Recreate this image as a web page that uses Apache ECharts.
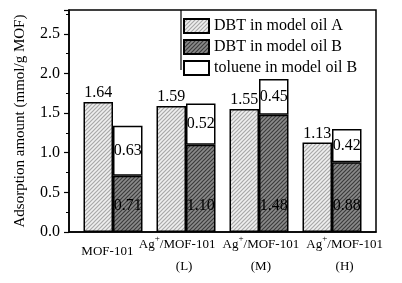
<!DOCTYPE html>
<html>
<head>
<meta charset="utf-8">
<script src="https://cdn.jsdelivr.net/npm/echarts@6/dist/echarts.min.js"></script>
<style>
html,body{margin:0;padding:0;background:#fff}
#chart{width:402px;height:283px}
</style>
</head>
<body>
<div id="chart"></div>
<script>
// data
const categories = ['MOF-101', 'Ag+/MOF-101\n(L)', 'Ag+/MOF-101\n(M)', 'Ag+/MOF-101\n(H)'];
const dbtOilA = [1.64, 1.59, 1.55, 1.13];
const dbtOilB = [0.71, 1.10, 1.48, 0.88];
const tolueneOilB = [0.63, 0.52, 0.45, 0.42];
const seriesNames = ['DBT in model oil A', 'DBT in model oil B', 'toluene in model oil B'];
const yMin = 0, yMax = 2.8, yStep = 0.5;

const serif = 'Liberation Serif';

// diagonal hatch fill
function hatch(bg, fg) {
    const c = document.createElement('canvas');
    c.width = 4; c.height = 4;
    const g = c.getContext('2d');
    g.fillStyle = bg;
    g.fillRect(0, 0, 4, 4);
    g.strokeStyle = fg;
    g.lineWidth = 1.2;
    g.beginPath();
    g.moveTo(0, 4); g.lineTo(4, 0);
    g.moveTo(-1, 1); g.lineTo(1, -1);
    g.moveTo(3, 5); g.lineTo(5, 3);
    g.stroke();
    return {image: c, repeat: 'repeat'};
}

const chart = echarts.init(document.getElementById('chart'));
const border = {borderColor: '#000', borderWidth: 1.5};
const txt = {fontFamily: serif, fontSize: 13, lineHeight: 22, color: '#000'};

chart.setOption({
    animation: false,
    backgroundColor: '#fff',
    grid: [
        {left: 76.5, top: 10, width: 292, height: 222},                 // bars
        {left: 69, top: 10, width: 307, height: 222, show: true,
         borderColor: '#000', borderWidth: 1.5, backgroundColor: 'transparent'}  // frame
    ],
    legend: {
        orient: 'vertical',
        left: 183, top: 18,
        padding: 0,
        itemWidth: 25, itemHeight: 14, itemGap: 5,
        icon: 'rect',
        data: seriesNames,
        textStyle: {fontFamily: serif, fontSize: 16, color: '#000'}
    },
    xAxis: [
        {type: 'category', gridIndex: 0, data: categories, show: false},
        {
            type: 'category', gridIndex: 1, data: categories,
            axisLine: {lineStyle: {color: '#000', width: 1.5}},
            axisTick: {show: false},
            axisLabel: {
                interval: 0,
                hideOverlap: false,
                margin: 2,
                color: '#000', fontFamily: serif, fontSize: 13, lineHeight: 22,
                formatter: function (v, i) {
                    if (v.indexOf('\n') < 0) return '{one|' + v + '}';
                    const parts = v.split('\n');
                    const head = parts[0].split('+');
                    // first label line sits a little off the tick in the original
                    const a = i === 3 ? 'ar' : 'a';
                    const b = i === 1 ? 'bl' : 'b';
                    const c = i === 3 ? 'ar' : 'a';
                    return '{' + a + '|' + head[0] + '}{sup|+}{' + b + '|' + head[1] + '}\n{' + c + '|' + parts[1] + '}';
                },
                rich: {
                    one: Object.assign({}, txt, {lineHeight: 36}),
                    a: txt,
                    b: txt,
                    ar: Object.assign({}, txt, {padding: [0, 0, 0, 14]}),
                    bl: Object.assign({}, txt, {padding: [0, 14, 0, 0]}),
                    sup: {fontFamily: serif, fontSize: 9, lineHeight: 10, verticalAlign: 'top', color: '#000'}
                }
            }
        }
    ],
    yAxis: [
        {type: 'value', gridIndex: 0, min: yMin, max: yMax, show: false, splitLine: {show: false}},
        {
            type: 'value', gridIndex: 1, min: yMin, max: yMax, interval: yStep,
            name: 'Adsorption amount (mmol/g MOF)',
            nameLocation: 'middle', nameGap: 41,
            nameTextStyle: {fontFamily: serif, fontSize: 15, color: '#000'},
            axisLine: {show: true, lineStyle: {color: '#000', width: 1.5}},
            axisTick: {show: true, length: 5, lineStyle: {color: '#000', width: 1.2}},
            minorTick: {show: true, splitNumber: 2, length: 3, lineStyle: {color: '#000', width: 1}},
            splitLine: {show: false},
            axisLabel: {
                showMaxLabel: false,
                margin: 9, color: '#000', fontFamily: serif, fontSize: 16,
                formatter: v => v.toFixed(1)
            }
        }
    ],
    series: [
        {
            name: seriesNames[0], type: 'bar', xAxisIndex: 0, yAxisIndex: 0,
            data: dbtOilA, barWidth: 29.5, barGap: '0%',
            itemStyle: Object.assign({color: hatch('#efefef', '#a8a8a8')}, border),
            label: {show: true, position: 'top', distance: 1, color: '#000',
                    fontFamily: serif, fontSize: 16, formatter: p => p.value.toFixed(2)}
        },
        {
            name: seriesNames[1], type: 'bar', stack: 'B', xAxisIndex: 0, yAxisIndex: 0,
            data: dbtOilB, barWidth: 29.5, barGap: '0%',
            itemStyle: Object.assign({color: hatch('#8a8a8a', '#3c3c3c')}, border),
            label: {show: true, position: 'insideBottom', distance: 18, color: '#000',
                    fontFamily: serif, fontSize: 16, formatter: p => p.value.toFixed(2)}
        },
        {
            name: seriesNames[2], type: 'bar', stack: 'B', xAxisIndex: 0, yAxisIndex: 0,
            data: tolueneOilB, barWidth: 29.5, barGap: '0%',
            itemStyle: Object.assign({color: '#fff'}, border),
            label: {show: true, position: 'inside', color: '#000',
                    fontFamily: serif, fontSize: 16, formatter: p => p.value.toFixed(2)}
        }
    ],
    graphic: [
        // left edge of the legend frame
        {type: 'line', shape: {x1: 181, y1: 10, x2: 181, y2: 70},
         style: {stroke: '#000', lineWidth: 1.2}, z: 10}
    ]
});
</script>
</body>
</html>
